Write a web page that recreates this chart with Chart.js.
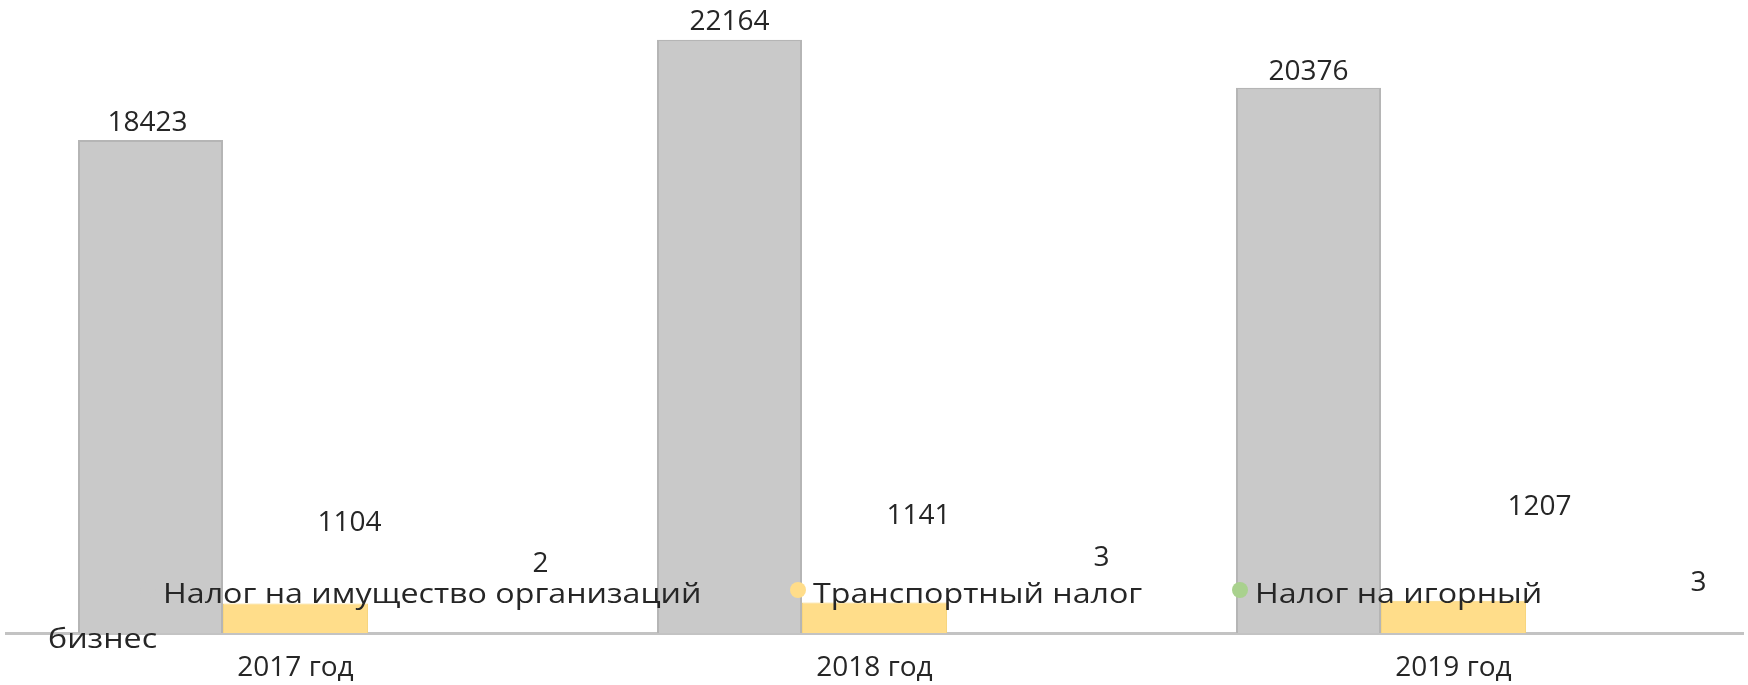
<!DOCTYPE html>
<html lang="ru">
<head>
<meta charset="utf-8">
<title>Налоги</title>
<script src="https://cdn.jsdelivr.net/npm/chart.js@4.4.1/dist/chart.umd.min.js"></script>
<style>
  html, body { margin: 0; padding: 0; background: #fff; }
  #wrap { width: 1748px; height: 685px; }
</style>
</head>
<body>
<div id="wrap"><canvas id="taxChart" width="1748" height="685"></canvas></div>
<script>
// Data
const years = ['2017 год', '2018 год', '2019 год'];
const propertyTax = [18423, 22164, 20376];
const transportTax = [1104, 1141, 1207];
const gamblingTax = [2, 3, 3];
const seriesNames = ['Налог на имущество организаций', 'Транспортный налог', 'Налог на игорный бизнес'];

// label offsets (px) from the bar top, the labels were dragged around in the original
const labelShift = [
    [[-3, -17], [0, -18], [0, -16]],
    [[54, -80], [44, -86], [86, -94]],
    [[100, -69], [82, -75], [100, -50]]
];

// legend laid over the plot, as in the source picture
const legendSpots = [
    [{ x: 163, y: 603 }],
    [{ x: 813, y: 603 }],
    [{ x: 1255, y: 603, words: 3 }, { x: 48, y: 648 }]
];

const FONT = '"Open Sans", "Liberation Sans", sans-serif';
const colors = ['#c9c9c9', '#ffdd8a', '#a9d18e'];
const borders = ['#b5b5b5', '#f7d57e', '#a9d18e'];

const valueLabels = {
    id: 'valueLabels',
    afterDatasetsDraw(chart) {
        const ctx = chart.ctx;
        ctx.save();
        ctx.font = '28px ' + FONT;
        ctx.fillStyle = '#262626';
        ctx.textAlign = 'center';
        ctx.textBaseline = 'middle';
        chart.data.datasets.forEach((ds, i) => {
            chart.getDatasetMeta(i).data.forEach((bar, j) => {
                const [dx, dy] = labelShift[i][j];
                ctx.fillText(String(ds.data[j]), bar.x + dx, bar.y + dy);
            });
        });
        ctx.restore();
    }
};

const overlayLegend = {
    id: 'overlayLegend',
    afterDatasetsDraw(chart) {
        const ctx = chart.ctx;
        ctx.save();
        ctx.font = '28px ' + FONT;
        ctx.textAlign = 'left';
        ctx.textBaseline = 'alphabetic';
        chart.data.datasets.forEach((ds, i) => {
            const spots = legendSpots[i];
            const words = ds.label.split(' ');
            const cut = spots[0].words || words.length;
            const lines = [words.slice(0, cut).join(' '), words.slice(cut).join(' ')];

            // marker
            ctx.beginPath();
            ctx.fillStyle = ds.backgroundColor;
            ctx.arc(spots[0].x - 15, spots[0].y - 13, 8, 0, Math.PI * 2);
            ctx.fill();

            // legend font in the original is wider than the label font
            ctx.fillStyle = '#262626';
            spots.forEach((s, k) => {
                if (!lines[k]) return;
                ctx.save();
                ctx.translate(s.x, s.y);
                ctx.scale(1.15, 1);
                ctx.fillText(lines[k], 0, 0);
                ctx.restore();
            });
        });
        ctx.restore();
    }
};

const ctx = document.getElementById('taxChart').getContext('2d');
new Chart(ctx, {
    type: 'bar',
    data: {
        labels: years,
        datasets: [propertyTax, transportTax, gamblingTax].map((d, i) => ({
            label: seriesNames[i],
            data: d,
            backgroundColor: colors[i],
            borderColor: borders[i],
            borderWidth: i === 0 ? 2 : 1,
            categoryPercentage: 0.7513,
            barPercentage: 1
        }))
    },
    options: {
        responsive: false,
        animation: false,
        layout: { padding: { left: 6, right: 5, top: 0, bottom: 0 } },
        plugins: {
            legend: { display: false },
            tooltip: { enabled: false }
        },
        scales: {
            x: {
                afterFit(scale) { scale.height = 52; },
                grid: { display: true, drawOnChartArea: false, drawTicks: false },
                border: { display: true, color: '#c3c3c3', width: 3 },
                ticks: {
                    color: '#262626',
                    padding: 18,
                    font: { family: FONT, size: 28, lineHeight: 1.2 }
                }
            },
            y: {
                display: false,
                min: 0,
                max: 23650
            }
        }
    },
    plugins: [valueLabels, overlayLegend]
});
</script>
</body>
</html>
